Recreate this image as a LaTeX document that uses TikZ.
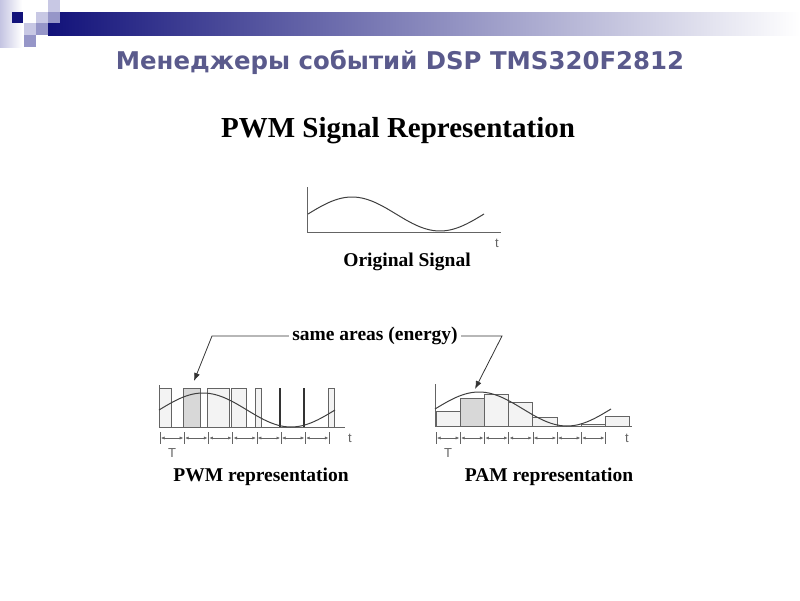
\documentclass[tikz,border=0pt]{standalone}
\usepackage{fontspec}
\setmainfont{Liberation Serif}
\newfontfamily\titlefont{DejaVu Sans}
\newfontfamily\axisfont{Liberation Sans}
\usetikzlibrary{arrows.meta}

\definecolor{navybar}{RGB}{18,18,122}
\definecolor{midbar}{RGB}{92,92,168}
\definecolor{edgelav}{RGB}{196,196,226}
\definecolor{sqlight}{RGB}{200,200,228}
\definecolor{sqmid}{RGB}{150,150,200}
\definecolor{titleblue}{RGB}{90,90,140}
\definecolor{pulsefill}{RGB}{243,243,243}
\definecolor{pulsedark}{RGB}{216,216,216}
\definecolor{linegray}{RGB}{100,100,100}

\tikzset{
  headtxt/.style={font=\bfseries\fontsize{29}{33}\selectfont},
  captxt/.style={font=\bfseries\fontsize{19.5}{23}\selectfont},
  axislbl/.style={font=\axisfont\fontsize{13}{15}\selectfont, text=linegray},
  pulse/.style={draw=linegray, line width=0.8pt, fill=pulsefill},
  signal/.style={draw=black!75, line width=1pt},
  axis/.style={draw=linegray, line width=0.8pt},
  leader/.style={draw=black!80, line width=0.8pt, -{Latex[length=8pt,width=6pt]}},
  period/.style={draw=linegray, line width=0.5pt, {Latex[length=3.5pt,width=3pt]}-{Latex[length=3.5pt,width=3pt]}},
}

\begin{document}
\begin{tikzpicture}[x=1pt, y=-1pt]
        \useasboundingbox (0,0) rectangle (800,600);
        % HEADER
        \shade[left color=edgelav, right color=white] (0,0) rectangle (22,47);
        \shade[left color=navybar, middle color=midbar, right color=white] (48,12) rectangle (800,35);
        \fill[navybar] (12,12) rectangle (23,23);
        \fill[sqlight] (48,0) rectangle (60,12);
        \fill[sqlight] (36,12) rectangle (48,23);
        \fill[sqmid] (48,12) rectangle (60,23);
        \fill[sqlight] (24,23) rectangle (36,35);
        \fill[sqmid] (36,23) rectangle (48,35);
        \fill[sqmid] (24,35) rectangle (36,47);
        \node[font=\titlefont\bfseries\fontsize{24.4}{28}\selectfont, text=titleblue] (title) at (400,62) {Менеджеры событий DSP TMS320F2812};
        \node[headtxt] (heading) at (398,131) {PWM Signal Representation};
        % ORIGINAL SIGNAL
        \draw[axis] (307,187) -- (307,232) -- (501,232);
        \node[axislbl] (tOrig) at (497,243) {t};
        \node[captxt] (origlbl) at (407,262) {Original Signal};
        % PWM (8 pulses)
        \foreach \i/\w in {0/12,1/17,2/22,3/15,4/6,5/0,6/0,7/6} {
            \pgfmathsetmacro\xs{159+24.2*\i}
            \ifnum\w=0
                \draw[black!80, line width=1.6pt] (\xs,388) -- (\xs,427);
            \else\ifnum\i=1
                \path[pulse, fill=pulsedark] (\xs,388) rectangle ++(\w,39);
            \else
                \path[pulse] (\xs,388) rectangle ++(\w,39);
            \fi\fi
        }
        \draw[axis] (159,385) -- (159,427) -- (345,427);
        % PAM (8 steps)
        \foreach \i/\h in {0/15,1/28,2/32,3/24,4/9,5/0,6/2,7/10} {
            \pgfmathsetmacro\xs{436+24.2*\i}
            \ifnum\h=0
            \else\ifnum\i=1
                \path[pulse, fill=pulsedark] (\xs,426) rectangle ++(24.2,-\h);
            \else
                \path[pulse] (\xs,426) rectangle ++(24.2,-\h);
            \fi\fi
        }
        \draw[axis] (435,384) -- (435,426) -- (632,426);
        % the signal itself, three times
        \foreach \xo/\yc in {308/214, 159/410, 435/409}
            \draw[signal] plot[domain=0:176, samples=60, smooth] ({\xo+\x},{\yc-17*sin(\x*2.04545)});
        % Period marks (bottom)
        \foreach \xo in {160, 436} {
            \foreach \i in {0,...,7}
                \draw[linegray, line width=0.5pt] (\xo+24.2*\i,432) -- ++(0,12);
            \foreach \i in {0,...,6}
                \draw[period] (\xo+1+24.2*\i,438) -- (\xo+23.2+24.2*\i,438);
        }
        \node[axislbl] (tPwm) at (350,438) {t};
        \node[axislbl] (tPam) at (627,438) {t};
        \node[axislbl] (Tpwm) at (172,453) {T};
        \node[axislbl] (Tpam) at (448,453) {T};
        \node[captxt] (pwmlbl) at (261,477) {PWM representation};
        \node[captxt] (pamlbl) at (549,477) {PAM representation};
        % same areas
        \node[captxt] (areas) at (375,336) {same areas (energy)};
        \coordinate (pwmtip) at (194,381);
        \coordinate (pamtip) at (475,389);
        \draw[leader] (areas.west) -- (212,336) -- (pwmtip);
        \draw[leader] (areas.east) -- (502,336) -- (pamtip);
\end{tikzpicture}
\end{document}
